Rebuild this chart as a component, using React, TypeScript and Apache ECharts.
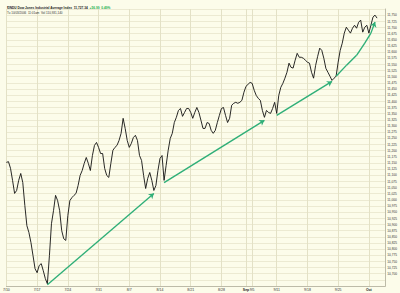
import React, { useEffect, useRef } from "react";
import * as echarts from "echarts";

// Trading days shown on the chart (three intraday samples per day)
const tradingDays = [
  "7/10","7/11","7/12","7/13","7/14","7/17","7/18","7/19","7/20","7/21",
  "7/24","7/25","7/26","7/27","7/28","7/31","8/1","8/2","8/3","8/4",
  "8/7","8/8","8/9","8/10","8/11","8/14","8/15","8/16","8/17","8/18",
  "8/21","8/22","8/23","8/24","8/25","8/28","8/29","8/30","8/31","9/1",
  "9/5","9/6","9/7","9/8","9/11","9/12","9/13","9/14","9/15","9/18",
  "9/19","9/20","9/21","9/22","9/25","9/26","9/27","9/28","9/29","10/2",
  "10/3","10/4",
];
const slotsPerDay = 3;

// Dates that carry an x-axis label, and the text shown for them
const tickDays = ["7/10","7/17","7/24","7/31","8/7","8/14","8/21","8/28","9/1","9/5","9/11","9/18","9/25","10/2"];
const tickText: Record<string, string> = { "9/1": "{b|Sep}", "10/2": "{b|Oct}" };

// $INDU intraday level (3 samples / day)
const induValues = [
  11152, 11155, 11128,  11079, 11026, 11038,  11079, 11107, 11070,  10977, 10895, 10867,
  10826, 10773, 10720,  10704, 10733, 10741,  10712, 10680, 10659,  10773, 10903, 10956,
  11018, 10997, 10956,  10875, 10842, 10835,  10936, 10997, 11009,  11018, 11026, 11058,
  11099, 11119, 11148,  11172, 11148, 11119,  11180, 11221, 11233,  11213, 11188, 11188,
  11127, 11099, 11091,  11148, 11201, 11213,  11221, 11241, 11270,  11331, 11290, 11241,
  11213, 11229, 11253,  11262, 11241, 11180,  11160, 11099, 11046,  11087, 11111, 11079,
  11038, 11058, 11119,  11168, 11180, 11079,  11140, 11201, 11249,  11270, 11314, 11335,
  11363, 11371, 11339,  11355, 11371, 11371,  11355, 11331, 11355,  11375, 11355, 11323,
  11290, 11290, 11314,  11310, 11282, 11270,  11282, 11314, 11343,  11371, 11375, 11343,
  11314, 11331, 11384,  11392, 11396, 11392,  11396, 11404, 11437,  11461, 11469, 11477,
  11473, 11445, 11424,  11412, 11404, 11363,  11335, 11363, 11355,  11351, 11371, 11396,
  11351, 11424, 11457,  11473, 11494, 11518,  11555, 11538, 11535,  11567, 11595, 11579,
  11579, 11575, 11567,  11559, 11555, 11518,  11494, 11546, 11583,  11616, 11607, 11575,
  11534, 11518, 11502,  11485, 11494, 11502,  11559, 11607, 11636,  11677, 11701, 11689,
  11677, 11697, 11709,  11697, 11721, 11730,  11681, 11701, 11709,  11677, 11709, 11742,
  11750, 11738,
];

// Straight trend arrows: [slot index, level] start -> end
const trendArrows: [number, number][][] = [
  [[20, 10655], [72, 11026]],
  [[77, 11070], [126, 11323]],
  [[132, 11343], [159, 11481]],
];
// Curved final arrow (polyline, arrow head at last point)
const curvedArrow: [number, number][] = [
  [161, 11502], [166, 11546], [171, 11587], [175, 11636], [178, 11677], [180, 11722],
];

const yMin = 10650;
const yMax = 11775;
const yStep = 25;
const yLabelMin = 10700;
const yLabelMax = 11750;

const BG = "#FCFCEA";
const GREEN = "#2FAF78";

export default function App() {
  const ref = useRef<HTMLDivElement>(null);

  useEffect(() => {
    if (!ref.current) return;
    const chart = echarts.init(ref.current, null, { renderer: "svg" });

    const categories: string[] = [];
    tradingDays.forEach((d) => {
      for (let k = 0; k < slotsPerDay; k++) categories.push(`${d}#${k}`);
    });
    const isTick = (_i: number, v: string) => {
      const [d, k] = v.split("#");
      return k === "0" && tickDays.includes(d);
    };

    const markData: any[] = [];
    trendArrows.forEach(([a, b]) => {
      markData.push([
        { coord: [categories[a[0]], a[1]], symbol: "none" },
        { coord: [categories[b[0]], b[1]], symbol: "arrow" },
      ]);
    });
    for (let i = 0; i < curvedArrow.length - 1; i++) {
      const a = curvedArrow[i];
      const b = curvedArrow[i + 1];
      const last = i === curvedArrow.length - 2;
      markData.push([
        { coord: [categories[a[0]], a[1]], symbol: "none" },
        { coord: [categories[b[0]], b[1]], symbol: last ? "arrow" : "none" },
      ]);
    }

    chart.setOption({
      animation: false,
      backgroundColor: BG,
      textStyle: { fontFamily: "Liberation Sans, Arial, sans-serif" },
      title: [
        {
          left: 2,
          top: 1,
          text: "{a|$INDU Dow Jones Industrial Average Index  11,727.34}  {g|+56.99  0.49%}",
          textStyle: {
            fontSize: 3.2,
            rich: {
              a: { fontSize: 3.2, fontWeight: "bold", color: "#222" },
              g: { fontSize: 3.2, fontWeight: "bold", color: "#22B04A" },
            },
          },
        },
        {
          left: 2,
          top: 6,
          text: "Tu 10/03/2006  11:01am  Vol 110,931,140",
          textStyle: { fontSize: 3, fontWeight: "normal", color: "#333" },
        },
      ],
      grid: { left: 2, right: 12, top: 9, bottom: 7 },
      xAxis: {
        type: "category",
        data: categories,
        boundaryGap: false,
        axisTick: { show: false },
        axisLine: { lineStyle: { color: "#BDBBA8", width: 1 } },
        axisLabel: {
          interval: isTick,
          fontSize: 3.5,
          color: "#333",
          margin: 2,
          formatter: (v: string) => {
            const d = v.split("#")[0];
            return tickText[d] ?? d;
          },
          rich: { b: { fontSize: 3.5, fontWeight: "bold", color: "#222" } },
        },
        splitLine: {
          show: true,
          interval: isTick,
          lineStyle: { color: "#E3E1C6", width: 1 },
        },
      },
      yAxis: {
        type: "value",
        position: "right",
        min: yMin,
        max: yMax,
        interval: yStep,
        axisLine: { show: true, lineStyle: { color: "#BDBBA8" } },
        axisTick: { show: false },
        axisLabel: {
          fontSize: 3.2,
          color: "#333",
          margin: 2,
          formatter: (v: number) =>
            v < yLabelMin || v > yLabelMax ? "" : v.toLocaleString("en-US"),
        },
        splitLine: { lineStyle: { color: "#ECEAD2", width: 1 } },
      },
      series: [
        {
          type: "line",
          data: induValues,
          showSymbol: false,
          lineStyle: { color: "#111111", width: 0.9 },
          markLine: {
            silent: true,
            symbol: ["none", "arrow"],
            symbolSize: 5,
            label: { show: false },
            lineStyle: { color: GREEN, width: 1.4, type: "solid" },
            emphasis: { disabled: true },
            data: markData,
          },
        },
      ],
    });

    return () => chart.dispose();
  }, []);

  return (
    <div
      ref={ref}
      style={{ position: "fixed", left: 0, top: 0, width: 400, height: 293, background: BG }}
    />
  );
}
